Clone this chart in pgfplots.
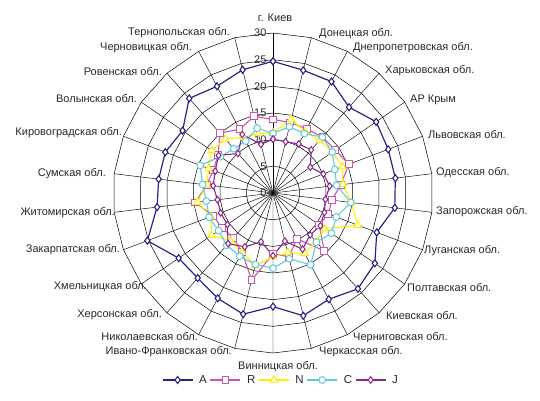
\documentclass[border=0pt]{standalone}
\usepackage{fontspec}
\setmainfont{Liberation Sans}
\usepackage{pgfplots}
\usepackage{pgfplotstable}
\pgfplotsset{compat=1.18}

\definecolor{cA}{RGB}{38,38,128}
\definecolor{cR}{RGB}{204,85,175}
\definecolor{cN}{RGB}{255,238,0}
\definecolor{cC}{RGB}{100,200,222}
\definecolor{cJ}{RGB}{135,40,140}
\definecolor{txt}{RGB}{40,40,40}

\pgfplotstableread{
k A R N C J
0 24.7 13.8 11.3 11.2 10.1
1 23.7 13.6 14.2 12.8 9.9
2 23.6 13.6 13.0 12.6 10.4
3 21.5 14.0 13.2 14.0 10.8
4 23.5 14.2 13.5 13.5 8.5
5 23.1 15.2 13.9 12.4 10.1
6 23.1 12.8 13.2 12.0 10.7
7 23.0 11.1 14.8 14.7 9.9
8 20.8 11.1 17.0 12.7 10.3
9 23.2 10.5 11.8 13.3 10.8
10 24.0 14.5 12.2 12.3 10.5
11 22.5 9.7 12.8 15.2 11.9
12 23.7 12.3 11.5 12.7 9.3
13 21.3 11.4 12.0 14.1 11.75
14 23.4 16.8 14.0 13.8 9.4
15 22.3 12.5 12.5 13.4 11.4
16 21.3 11.2 12.0 13.1 12.7
17 21.5 11.6 14.0 12.4 10.4
18 25.2 12.0 12.5 12.8 10.5
19 21.9 14.7 14.3 12.6 10.5
20 21.6 12.5 12.5 13.3 11.3
21 21.6 12.0 12.9 14.6 11.6
22 20.6 12.5 14.0 12.0 12.4
23 23.7 15.0 13.5 11.1 9.9
24 22.6 13.5 11.8 11.0 12.4
25 23.8 14.8 11.5 12.5 9.4
26 24.7 13.8 11.3 11.2 10.1
}\data

\begin{document}
\begin{tikzpicture}
\begin{axis}[
  x=5.3333pt, y=5.3333pt,
  xmin=-51.19, xmax=50.06, ymin=-38.81, ymax=36.19,
  hide axis, clip=false,
  font=\fontsize{11}{13}\selectfont,
  legend columns=5,
  legend style={draw=none, fill=none, at={(axis cs:1.5,-35.06)}, anchor=center,
    font=\fontsize{11.5}{13}\selectfont\color{txt},
    /tikz/every odd column/.append style={column sep=4pt},
    /tikz/every even column/.append style={column sep=1pt}},
  legend image code/.code={\draw[mark repeat=2,mark phase=2,#1] plot coordinates {(0pt,0pt) (15pt,0pt) (30pt,0pt)};},
]
% rings
\pgfplotsinvokeforeach{5,10,...,30}{
  \addplot[black, line width=0.5pt, domain=0:360, samples=27, forget plot] ({#1*sin(x)},{#1*cos(x)});
}
% spokes
\pgfplotsinvokeforeach{0,...,25}{
  \addplot[black, line width=0.45pt, domain=0:30, samples=2, forget plot] ({x*sin(#1*360/26)},{x*cos(#1*360/26)});
}
% tick labels
\pgfplotsinvokeforeach{0,5,...,30}{
  \node[anchor=east, inner sep=0pt, text=txt] at (axis cs:-1.2,#1) {#1};
}
% series
\addplot[cA, line width=1.2pt, mark=diamond*, mark options={solid, fill=white, line width=1.1pt, mark size=3.5pt}]
  table[x expr={\thisrow{A}*sin(\thisrow{k}*360/26)}, y expr={\thisrow{A}*cos(\thisrow{k}*360/26)}] {\data};
\addlegendentry{A}
\addplot[cR, line width=1.1pt, mark=square*, mark options={solid, fill=white, line width=1pt, mark size=3.4pt}]
  table[x expr={\thisrow{R}*sin(\thisrow{k}*360/26)}, y expr={\thisrow{R}*cos(\thisrow{k}*360/26)}] {\data};
\addlegendentry{R}
\addplot[cN, line width=1.1pt, mark=triangle*, mark options={solid, fill=white, line width=1pt, mark size=4.2pt}]
  table[x expr={\thisrow{N}*sin(\thisrow{k}*360/26)}, y expr={\thisrow{N}*cos(\thisrow{k}*360/26)}] {\data};
\addlegendentry{N}
\addplot[cC, line width=1.1pt, mark=*, mark options={solid, fill=white, line width=1pt, mark size=3.4pt}]
  table[x expr={\thisrow{C}*sin(\thisrow{k}*360/26)}, y expr={\thisrow{C}*cos(\thisrow{k}*360/26)}] {\data};
\addlegendentry{C}
\addplot[cJ, line width=1.1pt, mark=diamond*, mark options={solid, fill=white, line width=1pt, mark size=3.3pt}]
  table[x expr={\thisrow{J}*sin(\thisrow{k}*360/26)}, y expr={\thisrow{J}*cos(\thisrow{k}*360/26)}] {\data};
\addlegendentry{J}
% category labels
\begin{scope}[every node/.style={inner sep=0pt, text=txt}]
\node[anchor=center] at (axis cs:0.38,32.81) {г. Киев};
\node[anchor=west] at (axis cs:8.63,29.81) {Донецкая обл.};
\node[anchor=west] at (axis cs:15.0,27.19) {Днепропетровская обл.};
\node[anchor=west] at (axis cs:21.0,22.88) {Харьковская обл.};
\node[anchor=west] at (axis cs:25.69,17.44) {АР Крым};
\node[anchor=west] at (axis cs:29.06,11.06) {Львовская обл.};
\node[anchor=west] at (axis cs:30.56,3.75) {Одесская обл.};
\node[anchor=west] at (axis cs:30.56,-3.56) {Запорожская обл.};
\node[anchor=west] at (axis cs:28.31,-10.88) {Луганская обл.};
\node[anchor=west] at (axis cs:25.13,-17.63) {Полтавская обл.};
\node[anchor=west] at (axis cs:21.19,-22.88) {Киевская обл.};
\node[anchor=west] at (axis cs:15.0,-27.19) {Черниговская обл.};
\node[anchor=west] at (axis cs:8.63,-29.81) {Черкасская обл.};
\node[anchor=center] at (axis cs:0.94,-32.63) {Винницкая обл.};
\node[anchor=east] at (axis cs:-7.69,-29.81) {Ивано-Франковская обл.};
\node[anchor=east] at (axis cs:-14.06,-27.0) {Николаевская обл.};
\node[anchor=east] at (axis cs:-20.81,-22.88) {Херсонская обл.};
\node[anchor=east] at (axis cs:-23.63,-17.63) {Хмельницкая обл.};
\node[anchor=east] at (axis cs:-28.69,-10.69) {Закарпатская обл.};
\node[anchor=east] at (axis cs:-29.63,-3.75) {Житомирская обл.};
\node[anchor=east] at (axis cs:-31.31,3.56) {Сумская обл.};
\node[anchor=east] at (axis cs:-28.31,11.25) {Кировоградская обл.};
\node[anchor=east] at (axis cs:-25.5,17.63) {Волынская обл.};
\node[anchor=east] at (axis cs:-20.81,22.69) {Ровенская обл.};
\node[anchor=east] at (axis cs:-15.19,27.19) {Черновицкая обл.};
\node[anchor=east] at (axis cs:-8.06,30.0) {Тернопольская обл.};
\end{scope}
\end{axis}
\pgfresetboundingbox
\path (current axis.south west) rectangle (current axis.north east);
\end{tikzpicture}
\end{document}
